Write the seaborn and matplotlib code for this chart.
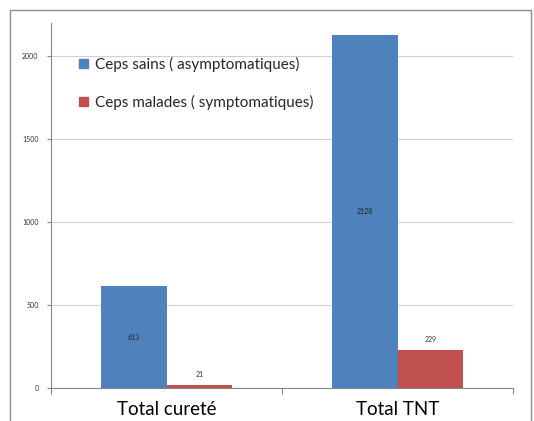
import matplotlib
matplotlib.use("Agg")
import matplotlib.pyplot as plt
import matplotlib.patches as mpatches
import seaborn as sns
import pandas as pd

# chart values
categories = ["Total cureté", "Total TNT"]
series = ["Ceps sains ( asymptomatiques)", "Ceps malades ( symptomatiques)"]
sains = [613, 2128]
malades = [21, 229]
colors = ["#4F81BD", "#C0504D"]
yticks = [0, 500, 1000, 1500, 2000]

df = pd.DataFrame({
    "Categorie": categories * 2,
    "Serie": [series[0]] * 2 + [series[1]] * 2,
    "Valeur": sains + malades,
})

sns.set_style("white")
plt.rcParams["font.family"] = ["Lato", "DejaVu Sans"]

fig = plt.figure(figsize=(5.34, 4.21), dpi=100)
# outer chart frame
fig.patches.append(mpatches.Rectangle((10 / 534, -0.1), 521 / 534, 1.1 - 10 / 421,
                                      transform=fig.transFigure, fill=False,
                                      edgecolor="#8c8c8c", linewidth=1.0))
ax = fig.add_axes([51 / 534, 1 - 388 / 421, 462 / 534, 365 / 421])

sns.barplot(data=df, x="Categorie", y="Valeur", hue="Serie", palette=colors,
            width=0.57, saturation=1, ax=ax, legend=False, linewidth=0)

ax.set_ylim(0, 2200)
ax.set_xlim(-0.5, 1.5)
ax.set_yticks(yticks)
ax.set_yticklabels([str(t) for t in yticks], fontsize=5, color="#333333")
ax.yaxis.grid(True, color="#d0d0d0", linewidth=0.8)
ax.set_axisbelow(True)
ax.set_xlabel("")
ax.set_ylabel("")
ax.set_xticks([])
ax.set_xticks([-0.5, 0.5, 1.5], minor=True)
ax.tick_params(axis="x", which="minor", bottom=True, length=4, color="#868686", width=0.8)
for i, c in enumerate(categories):
    ax.text(i, -0.035, c, transform=ax.get_xaxis_transform(), ha="center",
            va="top", fontsize=13.5, color="#000000")
ax.tick_params(axis="y", left=True, length=3, color="#868686", width=0.8, pad=6)
for s in ["top", "right"]:
    ax.spines[s].set_visible(False)
for s in ["left", "bottom"]:
    ax.spines[s].set_color("#868686")
    ax.spines[s].set_linewidth(0.8)

# data labels
for cont, vals in zip(ax.containers, [sains, malades]):
    for bar, v in zip(cont, vals):
        x = bar.get_x() + bar.get_width() / 2
        if v > 500:
            ax.text(x, v / 2, str(v), ha="center", va="center", fontsize=5, color="#222222")
        else:
            ax.text(x, v + 40, str(v), ha="center", va="bottom", fontsize=5, color="#333333")

handles = [mpatches.Patch(color=c) for c in colors]
ax.legend(handles, series, loc="upper left", bbox_to_anchor=(0.03, 0.945),
          frameon=False, fontsize=11, handlelength=0.6, handleheight=0.6,
          handletextpad=0.45, labelspacing=1.5)

fig.savefig("out.png", dpi=100)
